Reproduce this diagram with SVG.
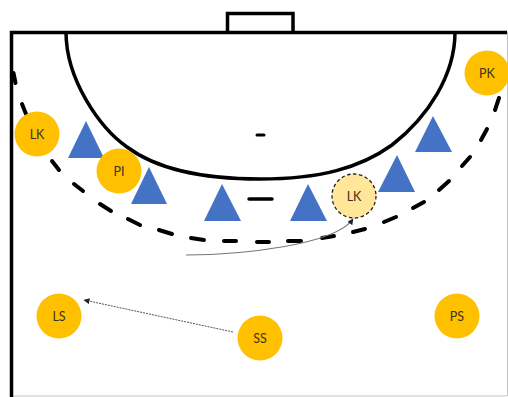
<svg xmlns="http://www.w3.org/2000/svg" width="508" height="397" viewBox="0 0 508 397">
<style>
.line{fill:none;stroke:#000;stroke-width:3.5}
.dash{fill:none;stroke:#000;stroke-width:4;stroke-linecap:round}
.tri{fill:#4472C4}
.p{fill:#FFC000}
.t{font-family:"Lato","Liberation Sans",sans-serif;font-size:12.5px;fill:#3a3320;text-anchor:middle}
</style>
<defs>
<marker id="ah" markerWidth="7" markerHeight="6" refX="5.5" refY="3" orient="auto" markerUnits="userSpaceOnUse"><path d="M0 0L6 3L0 6Z" fill="#222"/></marker>
</defs>
<rect width="508" height="397" fill="#fff"/>
<path d="M507.5 32V396H12" fill="none" stroke="#c4c4c4" stroke-width="1"/>
<g id="court">
<path class="line" d="M11.5 397V32.500H507"/>
<path class="line" d="M227.500 32V13.500H293V32"/>
<path class="line" d="M66 32C66 80 100 128 127 147C155 168 200 179 260 179C320 179 360 168 392 145C428 117 455 75 455 32"/>
<path d="M257 135H264" stroke="#000" stroke-width="3" stroke-linecap="round"/>
<path d="M249 199H272" stroke="#000" stroke-width="3.500" stroke-linecap="round"/>
</g>
<g id="connectors">
<path class="dash" d="M13.500 73L15.500 83M22 104L26 114M52 161L59 170M74 184L83 191M100 204L111 211M128 219L140 225M159 230L172 234M191 238L204 240M224 241L236 241M257 242L269 242M288 241L301 241M322 238L334 236M353 232L365 229M384 222L396 217M413 208L424 202M439 190L449 181M462 166L470 157M481 140L487 129M495 110L499 98"/>
<path d="M186 255C240 255 335 245 353 219" fill="none" stroke="#777" stroke-width="1.200" marker-end="url(#ah)"/>
<path d="M233 332L84 300" fill="none" stroke="#555" stroke-width="1" stroke-dasharray="2 1" marker-end="url(#ah)"/>
</g>
<g id="defenders">
<path class="tri" d="M86 121L104 158H68Z"/>
<path class="tri" d="M149 167L167 204H131Z"/>
<path class="tri" d="M222 184L241 221H204Z"/>
<path class="tri" d="M308 184L327 221H290Z"/>
<path class="tri" d="M397 155L415 192H378Z"/>
<path class="tri" d="M433 116L452 152H415Z"/>
</g>
<g id="lk-left"><circle class="p" cx="37" cy="134" r="22.500"/><text class="t" x="37" y="139">LK</text></g>
<g id="pi"><circle class="p" cx="119" cy="171" r="22.500"/><text class="t" x="119" y="176">PI</text></g>
<g id="pk"><circle class="p" cx="487" cy="73" r="22.500"/><text class="t" x="487" y="78">PK</text></g>
<g id="ls"><circle class="p" cx="59" cy="316" r="22.500"/><text class="t" x="59" y="321">LS</text></g>
<g id="ss"><circle class="p" cx="260" cy="338" r="22.500"/><text class="t" x="260" y="343">SS</text></g>
<g id="ps"><circle class="p" cx="457" cy="316" r="22.500"/><text class="t" x="457" y="321">PS</text></g>
<g id="lk-moved"><circle cx="354" cy="196" r="22" fill="#FFE699" stroke="#222" stroke-width="1.300" stroke-dasharray="3.500 2.500"/><text class="t" x="354" y="201">LK</text></g>
</svg>
